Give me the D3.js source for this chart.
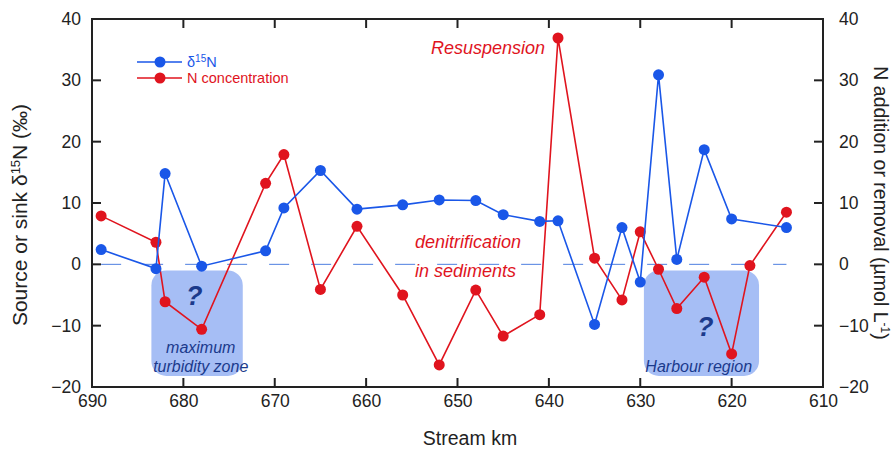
<!DOCTYPE html>
<html>
<head>
<meta charset="utf-8">
<script src="https://cdn.jsdelivr.net/npm/d3@7"></script>
<style>
  body { margin: 0; background: #fff; }
  text { font-family: "Liberation Sans", Arial, sans-serif; }
</style>
</head>
<body>
<div id="chart"></div>
<script>
// station positions (stream km) and the two series
var deltaKm = [689, 683, 682, 678, 671, 669, 665, 661, 656, 652, 648, 645, 641, 639, 635, 632, 630, 628, 626, 623, 620, 614];
var deltaN = [2.4, -0.7, 14.8, -0.3, 2.2, 9.2, 15.3, 9.0, 9.7, 10.5, 10.4, 8.1, 7.0, 7.1, -9.8, 6.0, -2.9, 30.9, 0.8, 18.7, 7.4, 6.0];

var concKm = [689, 683, 682, 678, 671, 669, 665, 661, 656, 652, 648, 645, 641, 639, 635, 632, 630, 628, 626, 623, 620, 618, 614];
var concN = [7.9, 3.6, -6.1, -10.6, 13.2, 17.9, -4.1, 6.2, -5.0, -16.4, -4.2, -11.7, -8.2, 36.9, 1.0, -5.8, 5.3, -0.8, -7.2, -2.1, -14.6, -0.2, 8.5];

var xTicks = [690, 680, 670, 660, 650, 640, 630, 620, 610];
var yTicks = [-20, -10, 0, 10, 20, 30, 40];

// shaded regions: km range, value range, where the "?" sits, label lines
var regions = [
  { from: 683.5, to: 673.5, top: -1, bottom: -18.2, qKm: 678.8, qVal: -5.0, labelKm: 678.1, label: ["maximum", "turbidity zone"] },
  { from: 629.6, to: 617.0, top: -1, bottom: -18.2, qKm: 622.9, qVal: -10.1, labelKm: 623.6, label: ["Harbour region"] }
];

var blue = "#1a57e8";
var red = "#e0141e";
var navy = "#1b3a8c";

var svgWidth = 891;
var svgHeight = 452;

var margin = { top: 19, right: 68, bottom: 65, left: 92 };
var width = svgWidth - margin.left - margin.right;
var height = svgHeight - margin.top - margin.bottom;

var svg = d3.select("#chart")
  .append("svg")
  .attr("width", svgWidth)
  .attr("height", svgHeight);

var chartGroup = svg.append("g")
  .attr("transform", `translate(${margin.left}, ${margin.top})`);

var x = d3.scaleLinear().domain([690, 610]).range([0, width]);
var y = d3.scaleLinear().domain([-20, 40]).range([height, 0]);

// shaded boxes first so lines go over them
regions.forEach(function(r) {
  var x0 = x(r.from), x1 = x(r.to), y0 = y(r.top), y1 = y(r.bottom);
  chartGroup.append("rect")
    .attr("x", x0).attr("y", y0)
    .attr("width", x1 - x0).attr("height", y1 - y0)
    .attr("rx", 15).attr("ry", 15)
    .attr("fill", "#a6bef5");

  chartGroup.append("text")
    .attr("x", x(r.qKm))
    .attr("y", y(r.qVal))
    .attr("dy", "0.36em")
    .attr("text-anchor", "middle")
    .style("font-size", "27px")
    .style("font-weight", "bold")
    .style("font-style", "italic")
    .style("fill", navy)
    .text("?");

  r.label.forEach(function(line, i) {
    chartGroup.append("text")
      .attr("x", x(r.labelKm))
      .attr("y", y1 - 4 - (r.label.length - 1 - i) * 19)
      .attr("text-anchor", "middle")
      .style("font-size", "16px")
      .style("font-style", "italic")
      .style("fill", navy)
      .text(line);
  });
});

// zero line
chartGroup.append("line")
  .attr("x1", x(689)).attr("x2", x(614))
  .attr("y1", y(0)).attr("y2", y(0))
  .attr("stroke", "#4d7fe0")
  .attr("stroke-width", 1)
  .attr("stroke-dasharray", "20,22");

// axes, ticks drawn inward separately
var bottomAxis = d3.axisBottom(x).tickValues(xTicks).tickSize(0).tickPadding(8);
var leftAxis = d3.axisLeft(y).tickValues(yTicks).tickSize(0).tickPadding(11);
var rightAxis = d3.axisRight(y).tickValues(yTicks).tickSize(0).tickPadding(16);

chartGroup.append("g").attr("transform", `translate(0, ${height})`).call(bottomAxis);
chartGroup.append("g").call(leftAxis);
chartGroup.append("g").attr("transform", `translate(${width}, 0)`).call(rightAxis);

chartGroup.selectAll(".domain").remove();
chartGroup.selectAll(".tick text")
  .style("font-size", "17.5px")
  .style("fill", "#222");

// frame
chartGroup.append("rect")
  .attr("width", width).attr("height", height)
  .attr("fill", "none")
  .attr("stroke", "#222")
  .attr("stroke-width", 2);

// inner tick marks
var tickLen = 9;
xTicks.slice(1, -1).forEach(function(t) {
  chartGroup.append("line").attr("x1", x(t)).attr("x2", x(t))
    .attr("y1", 0).attr("y2", tickLen).attr("stroke", "#222").attr("stroke-width", 2);
  chartGroup.append("line").attr("x1", x(t)).attr("x2", x(t))
    .attr("y1", height).attr("y2", height - tickLen).attr("stroke", "#222").attr("stroke-width", 2);
});
yTicks.slice(1, -1).forEach(function(t) {
  chartGroup.append("line").attr("x1", 0).attr("x2", tickLen)
    .attr("y1", y(t)).attr("y2", y(t)).attr("stroke", "#222").attr("stroke-width", 2);
  chartGroup.append("line").attr("x1", width).attr("x2", width - tickLen)
    .attr("y1", y(t)).attr("y2", y(t)).attr("stroke", "#222").attr("stroke-width", 2);
});

// series
var lineGen = d3.line().x(d => x(d[0])).y(d => y(d[1]));

function drawSeries(km, vals, color) {
  var pts = d3.zip(km, vals);
  chartGroup.append("path")
    .datum(pts)
    .attr("d", lineGen)
    .attr("fill", "none")
    .attr("stroke", color)
    .attr("stroke-width", 1.6);
  chartGroup.append("g").selectAll("circle")
    .data(pts)
    .enter()
    .append("circle")
    .attr("cx", d => x(d[0]))
    .attr("cy", d => y(d[1]))
    .attr("r", 5.5)
    .attr("fill", color);
}

drawSeries(concKm, concN, red);
drawSeries(deltaKm, deltaN, blue);

// annotations
chartGroup.append("text")
  .attr("x", 453)
  .attr("y", 35)
  .attr("text-anchor", "end")
  .style("font-size", "18px")
  .style("font-style", "italic")
  .style("fill", red)
  .text("Resuspension");

chartGroup.append("text")
  .attr("x", 323).attr("y", 229)
  .style("font-size", "18px").style("font-style", "italic").style("fill", red)
  .text("denitrification");
chartGroup.append("text")
  .attr("x", 323).attr("y", 258)
  .style("font-size", "18px").style("font-style", "italic").style("fill", red)
  .text("in sediments");

// legend
var legend = chartGroup.append("g").attr("transform", "translate(45, 43)");
[[blue, "δ15N"], [red, "N concentration"]].forEach(function(item, i) {
  var g = legend.append("g").attr("transform", `translate(0, ${i * 16})`);
  g.append("line").attr("x1", 0).attr("x2", 45).attr("y1", 0).attr("y2", 0)
    .attr("stroke", item[0]).attr("stroke-width", 1.6);
  g.append("circle").attr("cx", 23).attr("cy", 0).attr("r", 5.5).attr("fill", item[0]);
  var t = g.append("text").attr("x", 50).attr("y", 5)
    .style("font-size", "14.5px").style("fill", item[0]);
  if (i === 0) {
    t.append("tspan").text("δ");
    t.append("tspan").attr("dy", -5).style("font-size", "10px").text("15");
    t.append("tspan").attr("dy", 5).text("N");
  } else {
    t.text(item[1]);
  }
});

// axis titles
svg.append("text")
  .attr("x", 470)
  .attr("y", 445)
  .attr("text-anchor", "middle")
  .style("font-size", "19.5px")
  .style("fill", "#222")
  .text("Stream km");

var leftTitle = svg.append("text")
  .attr("transform", "translate(27, 215) rotate(-90)")
  .attr("text-anchor", "middle")
  .style("font-size", "21px")
  .style("fill", "#222");
leftTitle.append("tspan").text("Source or sink δ");
leftTitle.append("tspan").attr("dy", -7).style("font-size", "13px").text("15");
leftTitle.append("tspan").attr("dy", 7).text("N (‰)");

var rightTitle = svg.append("text")
  .attr("transform", "translate(874, 203) rotate(90)")
  .attr("text-anchor", "middle")
  .style("font-size", "19.5px")
  .style("fill", "#222");
rightTitle.append("tspan").text("N addition or removal (µmol L");
rightTitle.append("tspan").attr("dy", -7).style("font-size", "12px").text("-1");
rightTitle.append("tspan").attr("dy", 7).text(")");
</script>
</body>
</html>
